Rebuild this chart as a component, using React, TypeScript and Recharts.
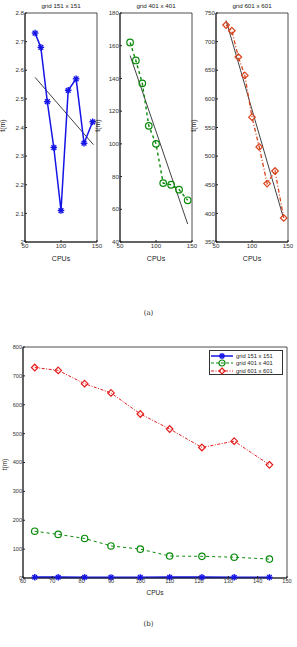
import React from 'react'
import { LineChart, Line, XAxis, YAxis, ReferenceArea, Legend } from 'recharts'

// measured run times per CPU count
const cpus = [64, 72, 81, 90, 100, 110, 121, 132, 144]
const t151 = [2.73, 2.68, 2.49, 2.33, 2.11, 2.53, 2.57, 2.345, 2.42]
const t401 = [162, 151, 137, 111, 100, 76, 75, 72, 65.5]
const t601 = [729, 719, 673, 641, 568, 516, 452, 474, 392]

// fitted trend lines (end points)
const fitX151 = [64, 145]
const fit151 = [2.575, 2.34]
const fitX401 = [64, 144]
const fit401 = [154, 51]
const fitX601 = [64, 143]
const fit601 = [737, 395]

const panelXTicks = [50, 100, 150]
const yTicks151 = [2, 2.1, 2.2, 2.3, 2.4, 2.5, 2.6, 2.7, 2.8]
const yTicks401 = [40, 60, 80, 100, 120, 140, 160, 180]
const yTicks601 = [350, 400, 450, 500, 550, 600, 650, 700, 750]
const bottomXTicks = [60, 70, 80, 90, 100, 110, 120, 130, 140, 150]
const bottomYTicks = [0, 100, 200, 300, 400, 500, 600, 700, 800]

const names = ['grid 151 x 151', 'grid 401 x 401', 'grid 601 x 601']

const FONT = '"Liberation Sans", Arial, sans-serif'
const BLUE = '#1414e6'
const GREEN = '#0a8a0a'
const ORANGE = '#d8431c'
const RED = '#e41c1c'

const rows = (xs: number[], ys: number[]) => xs.map((x, i) => ({ cpu: x, t: ys[i] }))

function starMark(cx: number, cy: number, r: number, color: string, key?: string) {
  const d = r * 0.72
  return (
    <g key={key} stroke={color} strokeWidth={1.4}>
      <line x1={cx - r} y1={cy} x2={cx + r} y2={cy} />
      <line x1={cx} y1={cy - r} x2={cx} y2={cy + r} />
      <line x1={cx - d} y1={cy - d} x2={cx + d} y2={cy + d} />
      <line x1={cx - d} y1={cy + d} x2={cx + d} y2={cy - d} />
    </g>
  )
}
function circleMark(cx: number, cy: number, r: number, color: string, key?: string) {
  return <circle key={key} cx={cx} cy={cy} r={r} fill="none" stroke={color} strokeWidth={1.2} />
}
function diamondMark(cx: number, cy: number, r: number, color: string, key?: string) {
  return (
    <path key={key} d={`M${cx},${cy - r}L${cx + r},${cy}L${cx},${cy + r}L${cx - r},${cy}Z`}
      fill="none" stroke={color} strokeWidth={1.2} />
  )
}

type MarkFn = typeof starMark
const dotWith = (mark: MarkFn, r: number, color: string) => (p: any) => {
  if (p.cx == null || p.cy == null) return <g key={p.key} />
  return mark(p.cx, p.cy, r, color, `d-${p.index}`)
}

interface PanelProps {
  left: number
  title: string
  domain: [number, number]
  yTicks: number[]
  values: number[]
  fitX: number[]
  fit: number[]
  color: string
  dash?: string
  width: number
  mark: MarkFn
}

function Panel({ left, title, domain, yTicks, values, fitX, fit, color, dash, width, mark }: PanelProps) {
  const tick = { fontSize: 6.2, fill: '#333', fontFamily: FONT }
  return (
    <div style={{ position: 'absolute', left, top: 0, width: 106, height: 265 }}>
      <div style={{ position: 'absolute', left: 25, width: 72, top: 2, textAlign: 'center', fontSize: 6.2, fontFamily: FONT, color: '#222' }}>
        {title}
      </div>
      <div style={{ position: 'absolute', left: -8, top: 122, width: 20, textAlign: 'center', fontSize: 7, fontFamily: FONT, color: '#222', transform: 'rotate(-90deg)' }}>
        t(m)
      </div>
      <LineChart width={106} height={265} margin={{ top: 13, right: 9, left: 0, bottom: 3 }}>
        <XAxis dataKey="cpu" type="number" domain={[50, 150]} ticks={panelXTicks} allowDataOverflow
          tick={tick} tickSize={-2} tickMargin={4} stroke="#222" height={20} interval={0}
          label={{ value: 'CPUs', position: 'insideBottom', offset: 1, fontSize: 7, fill: '#222', fontFamily: FONT }} />
        <YAxis type="number" domain={domain} ticks={yTicks} allowDataOverflow width={25}
          tick={tick} tickSize={-2} tickMargin={3} stroke="#222" interval={0} />
        <ReferenceArea x1={50} x2={150} y1={domain[0]} y2={domain[1]} fill="none" stroke="#222" strokeWidth={0.8} />
        <Line data={rows(fitX, fit)} dataKey="t" stroke="#111" strokeWidth={0.8} dot={false} isAnimationActive={false} />
        <Line data={rows(cpus, values)} dataKey="t" stroke={color} strokeWidth={width} strokeDasharray={dash}
          dot={dotWith(mark, 3.3, color)} isAnimationActive={false} />
      </LineChart>
    </div>
  )
}

const legendItems = [
  { name: names[0], color: BLUE, dash: undefined, mark: starMark, w: 1.5 },
  { name: names[1], color: GREEN, dash: '3 2', mark: circleMark, w: 1 },
  { name: names[2], color: RED, dash: '3 1.5 1 1.5', mark: diamondMark, w: 1 },
]

function LegendBox() {
  return (
    <div style={{ width: 74, height: 25, border: '0.8px solid #333', background: '#fff', boxSizing: 'border-box', padding: '1px 0' }}>
      {legendItems.map(it => (
        <div key={it.name} style={{ display: 'flex', alignItems: 'center', height: 7.6 }}>
          <svg width={24} height={8} style={{ flex: 'none' }}>
            <line x1={1} y1={4} x2={23} y2={4} stroke={it.color} strokeWidth={it.w} strokeDasharray={it.dash} />
            {it.mark(12, 4, 3, it.color)}
          </svg>
          <span style={{ fontSize: 5.8, fontFamily: FONT, color: '#222', marginLeft: 2, whiteSpace: 'nowrap' }}>{it.name}</span>
        </div>
      ))}
    </div>
  )
}

export default function App() {
  const tick = { fontSize: 5.6, fill: '#333', fontFamily: FONT }
  return (
    <div style={{ position: 'absolute', left: 0, top: 0, width: 297, height: 647, background: '#fff' }}>
      <Panel left={0} title={names[0]} domain={[2, 2.8]} yTicks={yTicks151} values={t151}
        fitX={fitX151} fit={fit151} color={BLUE} width={1.5} mark={starMark} />
      <Panel left={95} title={names[1]} domain={[40, 180]} yTicks={yTicks401} values={t401}
        fitX={fitX401} fit={fit401} color={GREEN} dash="3 3" width={1.4} mark={circleMark} />
      <Panel left={191} title={names[2]} domain={[350, 750]} yTicks={yTicks601} values={t601}
        fitX={fitX601} fit={fit601} color={ORANGE} dash="4 2 1 2" width={1.3} mark={diamondMark} />
      <div style={{ position: 'absolute', left: 0, width: 297, top: 309, textAlign: 'center', fontSize: 7, fontFamily: '"DejaVu Serif", serif', color: '#333' }}>(a)</div>

      <div style={{ position: 'absolute', left: 0, top: 330, width: 297, height: 270 }}>
        <div style={{ position: 'absolute', left: -6, top: 131, width: 20, textAlign: 'center', fontSize: 6.5, fontFamily: FONT, color: '#222', transform: 'rotate(-90deg)' }}>
          t(m)
        </div>
        <LineChart width={297} height={270} margin={{ top: 17, right: 10, left: 0, bottom: 5 }}>
          <XAxis dataKey="cpu" type="number" domain={[60, 150]} ticks={bottomXTicks} allowDataOverflow
            tick={tick} tickSize={-2} tickMargin={3} stroke="#222" height={17} interval={0}
            label={{ value: 'CPUs', position: 'insideBottom', offset: 0, fontSize: 6.5, fill: '#222', fontFamily: FONT }} />
          <YAxis type="number" domain={[0, 800]} ticks={bottomYTicks} width={23}
            tick={tick} tickSize={-2} tickMargin={3} stroke="#222" interval={0} />
          <ReferenceArea x1={60} x2={150} y1={0} y2={800} fill="none" stroke="#222" strokeWidth={0.8} />
          <Line data={rows(cpus, t601)} dataKey="t" name={names[2]} stroke={RED} strokeWidth={1} strokeDasharray="3 1.5 1 1.5"
            dot={dotWith(diamondMark, 3.3, RED)} isAnimationActive={false} />
          <Line data={rows(cpus, t401)} dataKey="t" name={names[1]} stroke={GREEN} strokeWidth={1} strokeDasharray="3 3"
            dot={dotWith(circleMark, 3.2, GREEN)} isAnimationActive={false} />
          <Line data={rows(cpus, t151)} dataKey="t" name={names[0]} stroke={BLUE} strokeWidth={1.8}
            dot={dotWith(starMark, 3.2, BLUE)} isAnimationActive={false} />
          <Legend layout="vertical" align="center" verticalAlign="middle" content={() => <LegendBox />}
            wrapperStyle={{ left: 209, top: 20, width: 74 }} />
        </LineChart>
      </div>
      <div style={{ position: 'absolute', left: 0, width: 297, top: 620, textAlign: 'center', fontSize: 7, fontFamily: '"DejaVu Serif", serif', color: '#333' }}>(b)</div>
    </div>
  )
}
